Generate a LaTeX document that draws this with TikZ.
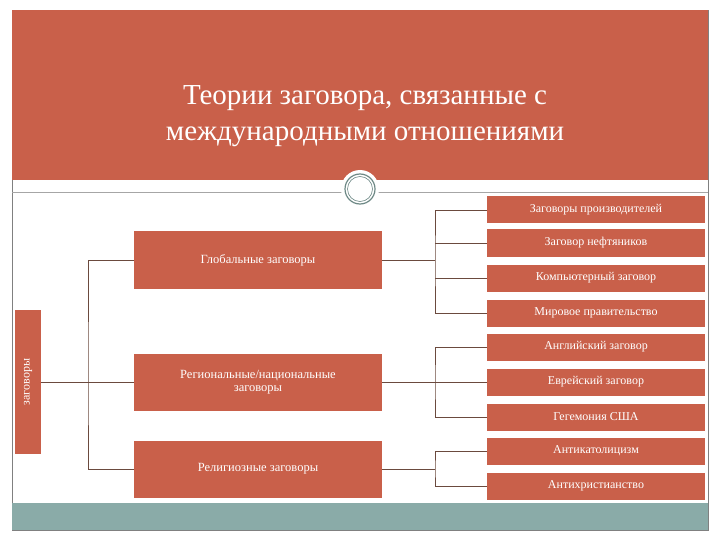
\documentclass[tikz,border=0pt]{standalone}
\usepackage{fontspec}
\setmainfont{Liberation Serif}
\definecolor{org}{HTML}{C9604A}
\definecolor{teal}{HTML}{8AABA8}
\definecolor{ln}{HTML}{6B4A3E}
\begin{document}
\begin{tikzpicture}[x=1pt,y=-1pt,
 bx/.style={fill=org,draw=none,text=white,align=center,inner sep=0pt},
 con/.style={draw=ln,line width=0.7pt}]
\useasboundingbox (0,0) rectangle (720,540);
\fill[white] (0,0) rectangle (720,540);
\draw[gray,line width=0.6pt] (12,10) rectangle (708,530);
\fill[org] (12,10) rectangle (708,180);
\draw[gray!70,line width=0.8pt] (12,192) -- (708,192);
\fill[teal] (12,503) rectangle (708,530);
\node[fill=white,circle,minimum size=38pt] (c0) at (360,189) {};
\draw[teal!80!black,line width=1.2pt] (360,189) circle (15);
\draw[teal!80!black,line width=0.6pt] (360,189) circle (12.5);
\node[text=white,align=center,font=\fontsize{29}{36}\selectfont] (t) at (365,116) {Теории заговора, связанные с\\международными отношениями};
% left label
\node[bx,minimum width=26pt,minimum height=144pt] (z) at (28,382) {};
\node[text=white,rotate=90,font=\fontsize{12}{14}\selectfont] (zl) at (z.center) {заговоры};
% middle boxes
\node[bx,minimum width=248pt,minimum height=57pt,font=\fontsize{12.5}{13}\selectfont] (g) at (258,260) {Глобальные заговоры};
\node[bx,minimum width=248pt,minimum height=57pt,font=\fontsize{12.5}{13}\selectfont] (r) at (258,382) {Региональные/национальные\\заговоры};
\node[bx,minimum width=248pt,minimum height=57pt,font=\fontsize{12.5}{13}\selectfont] (rel) at (258,469) {Религиозные заговоры};
% right boxes
\foreach \n/\y/\t in {a1/210/Заговоры производителей,a2/243/Заговор нефтяников,a3/278/Компьютерный заговор,a4/313/Мировое правительство,b1/347/Английский заговор,b2/382/Еврейский заговор,b3/417/Гегемония США,c1/451/Антикатолицизм,c2/486/Антихристианство}
 \node[bx,minimum width=218pt,minimum height=27pt,font=\fontsize{12}{13}\selectfont] (\n) at (596,\y) {\t};
% connectors
\coordinate (lt) at (88,382);
\draw[con] (z.east) -- (r.west);
\draw[con] (g.west) -| (lt) |- (rel.west);
\draw[con] (g.east) -- (435,260);
\draw[con] (a1.west) -| (435,260) |- (a4.west);
\draw[con] (a2.west) -- (435,243);
\draw[con] (a3.west) -- (435,278);
\draw[con] (r.east) -- (435,382);
\draw[con] (b1.west) -| (435,382) |- (b3.west);
\draw[con] (b2.west) -- (435,382);
\draw[con] (rel.east) -- (435,469);
\draw[con] (c1.west) -| (435,469) |- (c2.west);
\end{tikzpicture}
\end{document}
